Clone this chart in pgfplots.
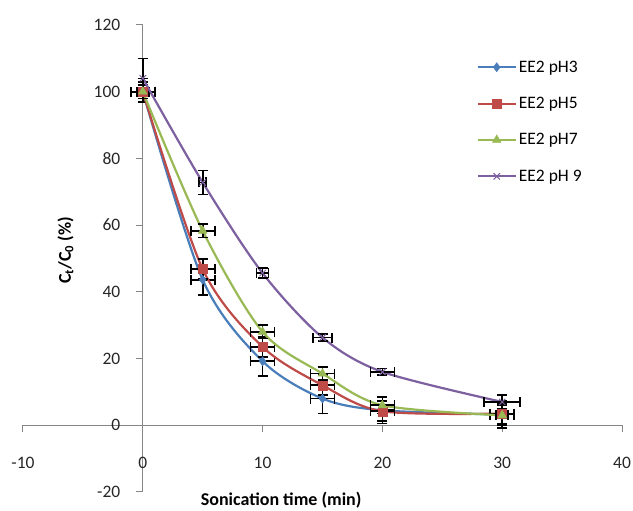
\documentclass[border=0pt]{standalone}
\usepackage{pgfplots}
\pgfplotsset{compat=1.18}
\usepackage{pgfplotstable}
\usepackage{fontspec}
\setmainfont{Carlito}
\definecolor{cBlue}{HTML}{4A7EBB}
\definecolor{cRed}{HTML}{BE4B48}
\definecolor{cGreen}{HTML}{98B954}
\definecolor{cPurple}{HTML}{7D60A0}
\definecolor{axgray}{HTML}{868686}
\pgfplotstableread{
x y ex ey
0 100 1 3
5 43.6 1 4.5
10 19.2 1 4.5
15 8 1 4.5
20 4.5 1 4
30 3.2 1 4
}\phthree
\pgfplotstableread{
x y ex ey
0 100 1 2
5 46.8 1 3
10 23.5 1 3
15 12 1 3
20 4.2 1 3
30 3.5 1 3
}\phfive
\pgfplotstableread{
x y ex ey
0 100 0.5 2
5 58.3 1 2
10 28 1 2
15 15.5 1 2
20 6 1 2.5
30 3 0.5 3
}\phseven
\pgfplotstableread{
x y ex ey
0 104 0 6
5 72.8 0.3 3.6
10 45.6 0.5 1.5
15 26.3 0.8 1
20 16 1 1
30 7 1.5 2
}\phnine
\pgfplotsset{
  myerr/.style={
    error bars/x dir=both, error bars/y dir=both,
    error bars/x explicit, error bars/y explicit,
    error bars/error bar style={black, line width=1.7pt},
    error bars/error mark options={rotate=90, black, mark size=5pt, line width=1.7pt}}
}
\begin{document}
\begin{tikzpicture}
\begin{axis}[
  at={(0pt,0pt)}, anchor=south west,
  scale only axis,
  width=599pt, height=467pt,
  xmin=-10, xmax=40, ymin=-20, ymax=120,
  axis lines=middle,
  axis line style={-, axgray, line width=1pt},
  hide obscured x ticks=false,
  hide obscured y ticks=false,
  xtick={-10,0,...,40},
  ytick={-20,0,...,120},
  tick align=outside,
  major tick length=7pt,
  tick style={axgray, line width=1pt},
  /pgf/number format/assume math mode=true,
  ticklabel style={font=\fontsize{17.5}{20}\selectfont, text=black!85},
  xticklabel style={anchor=base, yshift=-36pt},
  yticklabel style={xshift=-12pt},
  xlabel={\textbf{Sonication time (min)}},
  xlabel style={at={(axis cs:11.55,-22.6)}, anchor=center, font=\fontsize{18}{21}\selectfont},
  ylabel={\textbf{C\textsubscript{t}/C\textsubscript{0} (\%)}},
  ylabel style={at={(axis cs:-6.45,52.4)}, anchor=center, rotate=90, font=\fontsize{18}{21}\selectfont},
  legend style={at={(0.757,0.928)}, anchor=north west, draw=none, fill=none,
    font=\fontsize{17.5}{20}\selectfont, row sep=19.5pt, inner sep=0pt},
  legend cell align=left,
  legend image code/.code={\draw[mark repeat=2,mark phase=2] plot coordinates {(0pt,0pt) (19pt,0pt) (38pt,0pt)};},
  every axis plot/.append style={line width=2.2pt},
]
\addplot+[smooth, color=cBlue, mark=diamond*, mark size=4.5pt, mark options={fill=cBlue, line width=0.5pt}, myerr]
  table[x=x, y=y, x error=ex, y error=ey] {\phthree};
\addlegendentry{EE2 pH3}
\addplot+[smooth, color=cRed, mark=square*, mark size=4.5pt, mark options={fill=cRed, line width=0.5pt}, myerr]
  table[x=x, y=y, x error=ex, y error=ey] {\phfive};
\addlegendentry{EE2 pH5}
\addplot+[smooth, color=cGreen, mark=triangle*, mark size=5pt, mark options={fill=cGreen, line width=0.5pt}, myerr]
  table[x=x, y=y, x error=ex, y error=ey] {\phseven};
\addlegendentry{EE2 pH7}
\addplot+[smooth, color=cPurple, mark=x, mark size=4.5pt, mark options={line width=1pt}, myerr]
  table[x=x, y=y, x error=ex, y error=ey] {\phnine};
\addlegendentry{EE2 pH 9}
\end{axis}
\pgfresetboundingbox
\path[use as bounding box] (-23pt,-19pt) rectangle (610pt,492pt);
\end{tikzpicture}
\end{document}
